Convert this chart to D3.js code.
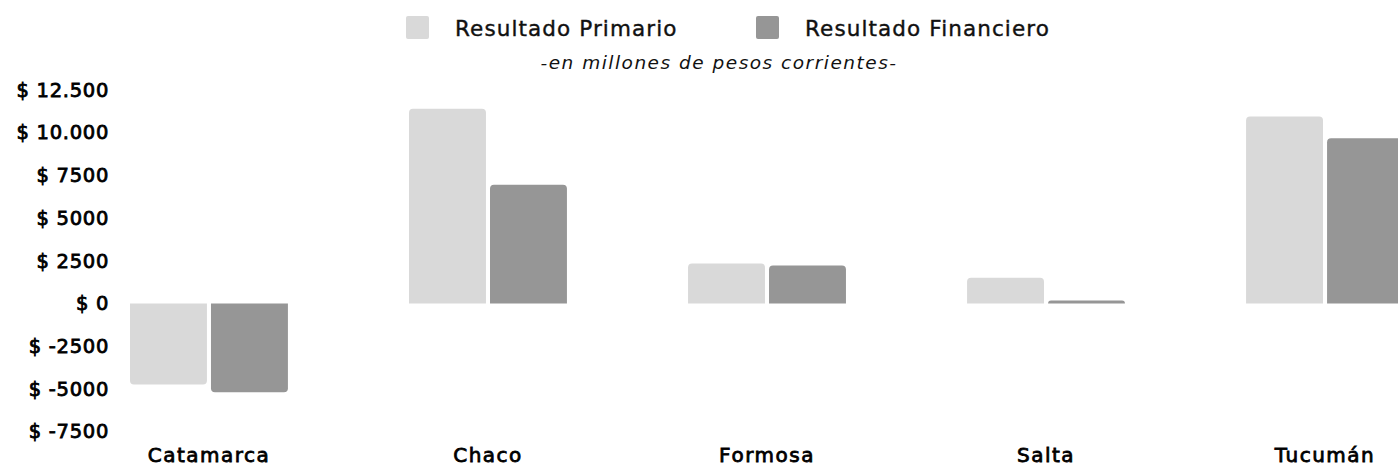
<!DOCTYPE html>
<html>
<head>
<meta charset="utf-8">
<script src="https://cdnjs.cloudflare.com/ajax/libs/d3/7.8.5/d3.min.js"></script>
<style>
  html, body { margin: 0; padding: 0; background: #fff; }
  svg { display: block; font-family: "DejaVu Sans", sans-serif; }
</style>
</head>
<body>
<svg id="chart" width="1398" height="468"></svg>
<script>
// data (millions of current pesos)
const provincias = ["Catamarca", "Chaco", "Formosa", "Salta", "Tucumán"]
const series = ["Resultado Primario", "Resultado Financiero"]
const primario = [-4750, 11400, 2340, 1500, 10950]
const financiero = [-5200, 6950, 2220, 175, 9670]
const yTicks = [-7500, -5000, -2500, 0, 2500, 5000, 7500, 10000, 12500]
const colores = ["#d9d9d9", "#969696"]

const svg = d3.select("#chart")

const x = d3.scaleBand()
    .domain(provincias)
    .range([130, 1404])
    .paddingInner(0.434)
    .paddingOuter(0)

const xSub = d3.scaleBand()
    .domain(series)
    .range([0, x.bandwidth()])
    .paddingInner(0.05)

const y = d3.scaleLinear()
    .domain([-7500, 12500])
    .range([431.5, 90])

const color = d3.scaleOrdinal().domain(series).range(colores)

// "$ 12.500" for five digits, "$ 7500" otherwise
function fmt(v){
    let s = Math.abs(v) >= 10000 ? d3.format(",")(v).replace(/,/g, ".") : String(v)
    return "$ " + s
}

// semi-bold look: book weight plus a thin stroke
function labelStyle(sel, size, spacing){
    sel.attr("font-size", size)
        .attr("font-family", "DejaVu Sans, sans-serif")
        .attr("letter-spacing", spacing)
        .attr("fill", "#000")
        .attr("stroke", "#000")
        .attr("stroke-width", 0.8)
}

// y axis labels only, no line
const yAxis = svg.append("g")
    .attr("transform", "translate(109,0)")
    .call(d3.axisLeft(y).tickValues(yTicks).tickFormat(fmt).tickSize(0).tickPadding(0))
yAxis.select(".domain").remove()
yAxis.selectAll("text").call(labelStyle, 19.5, 0.7)

// bars with rounded far end
function barPath(x0, w, v){
    let y0 = y(0), y1 = y(v)
    let r = Math.min(4, Math.abs(y1 - y0))
    let s = v >= 0 ? 1 : -1
    return "M" + x0 + "," + y0 + "V" + (y1 + s * r) + "Q" + x0 + "," + y1 + " " + (x0 + r) + "," + y1 +
        "H" + (x0 + w - r) + "Q" + (x0 + w) + "," + y1 + " " + (x0 + w) + "," + (y1 + s * r) + "V" + y0 + "Z"
}

const rows = provincias.map(function(p, i){
    return { prov: p, vals: [ {s: series[0], v: primario[i]}, {s: series[1], v: financiero[i]} ] }
})

svg.append("g")
    .selectAll("g")
    .data(rows)
    .enter()
    .append("g")
    .attr("transform", function(d){ return "translate(" + x(d.prov) + ",0)" })
    .selectAll("path")
    .data(function(d){ return d.vals })
    .enter()
    .append("path")
    .attr("d", function(d){ return barPath(xSub(d.s), xSub.bandwidth(), d.v) })
    .attr("fill", function(d){ return color(d.s) })

// category labels
const xAxis = svg.append("g")
    .attr("transform", "translate(0,448)")
    .call(d3.axisBottom(x).tickSize(0).tickPadding(0))
xAxis.select(".domain").remove()
xAxis.selectAll("text").call(labelStyle, 20, 1.5)

// legend
const legendX = [406, 756]
const legend = svg.append("g")
series.forEach(function(s, i){
    legend.append("rect")
        .attr("x", legendX[i]).attr("y", 16)
        .attr("width", 23).attr("height", 23)
        .attr("rx", 2)
        .attr("fill", colores[i])
    legend.append("text")
        .attr("x", legendX[i] + 49).attr("y", 36)
        .attr("font-size", 21.5)
        .attr("letter-spacing", 1.1)
        .attr("fill", "#111")
        .attr("stroke", "#111")
        .attr("stroke-width", 0.4)
        .text(s)
})

svg.append("text")
    .attr("x", 719).attr("y", 68.5)
    .attr("text-anchor", "middle")
    .attr("font-size", 18.5)
    .attr("letter-spacing", 1.5)
    .attr("font-style", "italic")
    .attr("fill", "#111")
    .text("-en millones de pesos corrientes-")
</script>
</body>
</html>
